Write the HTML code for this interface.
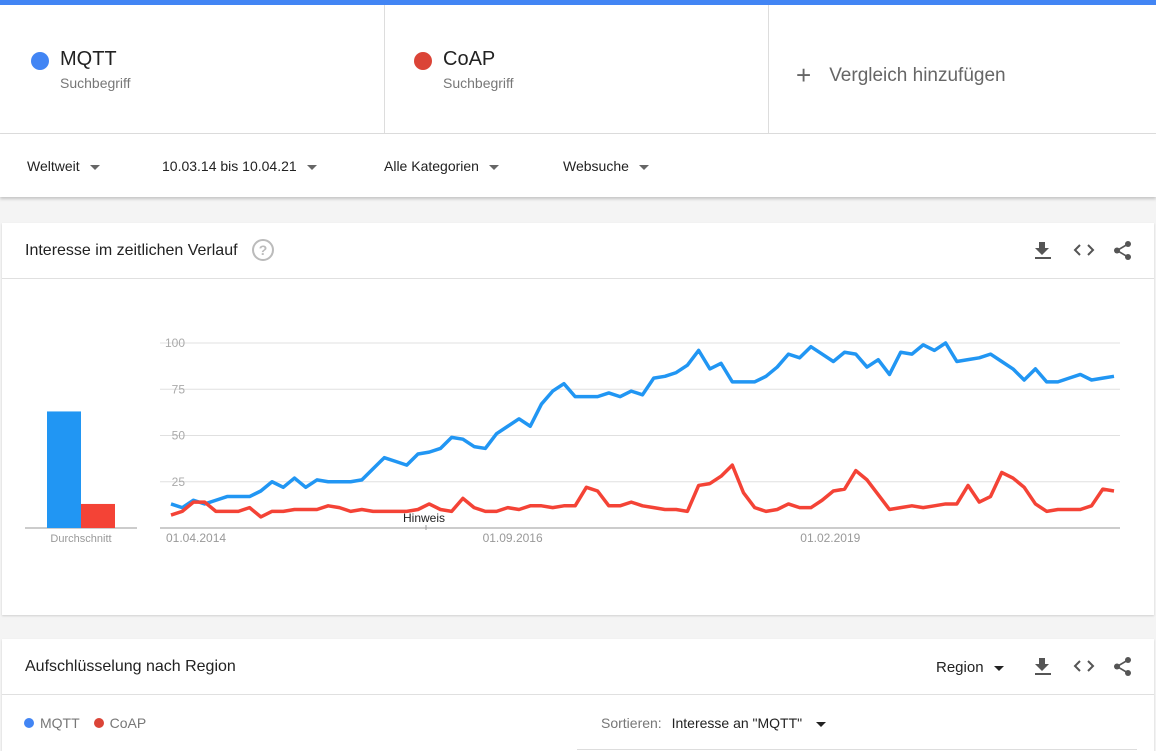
<!DOCTYPE html>
<html><head><meta charset="utf-8">
<style>
body{margin:0;width:1156px;height:751px;overflow:hidden;background:#f4f4f4;font-family:"Liberation Sans",sans-serif;position:relative}
.abs{position:absolute}
.topbar{left:0;top:0;width:1156px;height:5px;background:#4285f4}
.terms{left:0;top:5px;width:1156px;height:128px;background:#fff;border-bottom:1px solid #ddd}
.term{top:0;height:128px;border-right:1px solid #ddd;box-sizing:border-box}
.dot{width:18px;height:18px;border-radius:50%}
.tname{font-size:20px;color:#222}
.tsub{font-size:14px;color:#777}
.filters{left:0;top:134px;width:1156px;height:63px;background:#fff;box-shadow:0 2px 3px rgba(0,0,0,.2)}
.f{top:24px;font-size:14px;color:#222}
.caret{display:inline-block;width:0;height:0;border-left:5px solid transparent;border-right:5px solid transparent;border-top:5px solid #666;margin-left:10px;vertical-align:middle}
.card{left:2px;width:1152px;background:#fff;box-shadow:0 1px 2px rgba(0,0,0,.15)}
.title{font-size:16px;color:#222}
.icon{font-size:17px;color:#555}
</style></head><body>
<div class="abs topbar"></div>
<div class="abs terms">
 <div class="abs term" style="left:0;width:385px">
  <div class="abs dot" style="left:31px;top:47px;background:#4285f4"></div>
  <div class="abs tname" style="left:60px;top:43px">MQTT</div>
  <div class="abs tsub" style="left:60px;top:70px">Suchbegriff</div>
 </div>
 <div class="abs term" style="left:385px;width:384px">
  <div class="abs dot" style="left:29px;top:47px;background:#db4437"></div>
  <div class="abs tname" style="left:58px;top:43px">CoAP</div>
  <div class="abs tsub" style="left:58px;top:70px">Suchbegriff</div>
 </div>
 <div class="abs" style="left:796px;top:55px;font-size:19px;color:#666"><span style="font-size:26px;vertical-align:-3px;margin-right:18px">+</span>Vergleich hinzufügen</div>
</div>
<div class="abs filters">
 <div class="abs f" style="left:27px">Weltweit<span class="caret"></span></div>
 <div class="abs f" style="left:162px">10.03.14 bis 10.04.21<span class="caret"></span></div>
 <div class="abs f" style="left:384px">Alle Kategorien<span class="caret"></span></div>
 <div class="abs f" style="left:563px">Websuche<span class="caret"></span></div>
</div>
<div class="abs card" style="top:223px;height:392px">
 <div class="abs title" style="left:23px;top:19px">Interesse im zeitlichen Verlauf</div>
 <div class="abs" style="left:250px;top:16px;width:18px;height:18px;border:2px solid #bbb;border-radius:50%;color:#bbb;font-size:14px;text-align:center;line-height:18px;font-weight:bold">?</div>
 <svg class="abs" style="left:1032px;top:18px" width="18" height="20"><path d="M5 1h6v6h4l-7 7-7-7h4z" fill="#555"/><rect x="1" y="16" width="16" height="2" fill="#555"/></svg>
 <svg class="abs" style="left:1071px;top:20px" width="22" height="14"><path d="M7 2L2 7l5 5M15 2l5 5-5 5" stroke="#555" stroke-width="2" fill="none"/></svg>
 <svg class="abs" style="left:1110px;top:17px" width="22" height="22"><circle cx="16" cy="4" r="3" fill="#555"/><circle cx="16" cy="17" r="3" fill="#555"/><circle cx="5" cy="10.5" r="3" fill="#555"/><path d="M16 4L5 10.5L16 17" stroke="#555" stroke-width="1.6" fill="none"/></svg>
 <div class="abs" style="left:0;top:55px;width:1152px;height:1px;background:#e0e0e0"></div>
</div>
<svg class="abs" style="left:0;top:0" width="1156" height="620" id="chart"></svg>
<div class="abs card" style="top:639px;height:112px">
 <div class="abs title" style="left:23px;top:19px">Aufschlüsselung nach Region</div>
 <div class="abs f" style="left:934px;top:20px;font-size:15px">Region<span class="caret" style="border-top-color:#222"></span></div>
 <svg class="abs" style="left:1032px;top:18px" width="18" height="20"><path d="M5 1h6v6h4l-7 7-7-7h4z" fill="#555"/><rect x="1" y="16" width="16" height="2" fill="#555"/></svg>
 <svg class="abs" style="left:1071px;top:20px" width="22" height="14"><path d="M7 2L2 7l5 5M15 2l5 5-5 5" stroke="#555" stroke-width="2" fill="none"/></svg>
 <svg class="abs" style="left:1110px;top:17px" width="22" height="22"><circle cx="16" cy="4" r="3" fill="#555"/><circle cx="16" cy="17" r="3" fill="#555"/><circle cx="5" cy="10.5" r="3" fill="#555"/><path d="M16 4L5 10.5L16 17" stroke="#555" stroke-width="1.6" fill="none"/></svg>
 <div class="abs" style="left:0;top:55px;width:1152px;height:1px;background:#e0e0e0"></div>
 <div class="abs" style="left:22px;top:76px;font-size:14px;color:#777"><span style="display:inline-block;width:10px;height:10px;border-radius:50%;background:#4285f4;margin-right:6px"></span>MQTT<span style="display:inline-block;width:10px;height:10px;border-radius:50%;background:#db4437;margin:0 6px 0 14px"></span>CoAP</div>
 <div class="abs" style="left:599px;top:76px;font-size:14px;color:#777">Sortieren: <span style="color:#222;margin-left:6px">Interesse an "MQTT"</span><span class="caret" style="border-top-color:#222;margin-left:14px"></span></div>
 <div class="abs" style="left:575px;top:110px;width:560px;height:1px;background:#ddd"></div>
</div>
<script>
const mqtt=[13,11,15,13,15,17,17,17,20,25,22,27,22,26,25,25,25,26,32,38,36,34,40,41,43,49,48,44,43,51,55,59,55,67,74,78,71,71,71,73,71,74,72,81,82,84,88,96,86,89,79,79,79,82,87,94,92,98,94,90,95,94,87,91,83,95,94,99,96,100,90,91,92,94,90,86,80,86,79,79,81,83,80,81,82];
const coap=[7,9,14,14,9,9,9,11,6,9,9,10,10,10,12,11,9,10,9,9,9,9,10,13,10,9,16,11,9,9,11,10,12,12,11,12,12,22,20,12,12,14,12,11,10,10,9,23,24,28,34,19,11,9,10,13,11,11,15,20,21,31,26,18,10,11,12,11,12,13,13,23,14,17,30,27,22,13,9,10,10,10,12,21,20];
const avgVals=[63,13];
const yTicks=[25,50,75,100];
const xLabels=["01.04.2014","01.09.2016","01.02.2019"];
const xLabelIdx=[0,28.2,56.5];
const svg=document.getElementById('chart');const NS='http://www.w3.org/2000/svg';
const x0=171,x1=1114,yb=528,yt=343;
const X=i=>x0+(x1-x0)*i/(mqtt.length-1);
const Y=v=>yb-(yb-yt)*v/100;
function mk(t,a){const e=document.createElementNS(NS,t);for(const k in a)e.setAttribute(k,a[k]);svg.appendChild(e);return e;}
yTicks.forEach(v=>{
 const g=mk('line',{x1:160,x2:1120,y1:Y(v),y2:Y(v),stroke:'#e0e0e0'});
 
 
 const t=mk('text',{x:185,y:Y(v)+4,'text-anchor':'end','font-size':12,fill:'#aaa','font-family':'Liberation Sans'});t.textContent=v;
 
 
});
const ax=mk('line',{x1:160,x2:1120,y1:yb,y2:yb,stroke:'#999'});


xLabels.forEach((l,k)=>{
 const t=mk('text',{x:X(xLabelIdx[k])-5,y:yb+14,'font-size':12,fill:'#999','font-family':'Liberation Sans'});t.textContent=l;
 
 
});
const h=mk('text',{x:403,y:522,'font-size':12,fill:'#222','font-family':'Liberation Sans'});h.textContent='Hinweis';


mk('line',{x1:426,x2:426,y1:525,y2:530,stroke:'#999'});
const ab=mk('line',{x1:25,x2:137,y1:yb,y2:yb,stroke:'#999'});


const cols=['#2196f3','#f44336'];
avgVals.forEach((v,i)=>{
 const r=mk('rect',{x:47+34*i,y:Y(v),width:34,height:yb-Y(v),fill:cols[i]});
 
 
});
const at=mk('text',{x:81,y:yb+14,'text-anchor':'middle','font-size':11,fill:'#999','font-family':'Liberation Sans'});at.textContent='Durchschnitt';


[[mqtt,cols[0],'mqtt-line'],[coap,cols[1],'coap-line']].forEach(([d,c,n])=>{
 const p=mk('polyline',{points:d.map((v,i)=>X(i)+','+Y(v)).join(' '),fill:'none',stroke:c,'stroke-width':3.5,'stroke-linejoin':'round'});
 
 
});
</script>
</body></html>
